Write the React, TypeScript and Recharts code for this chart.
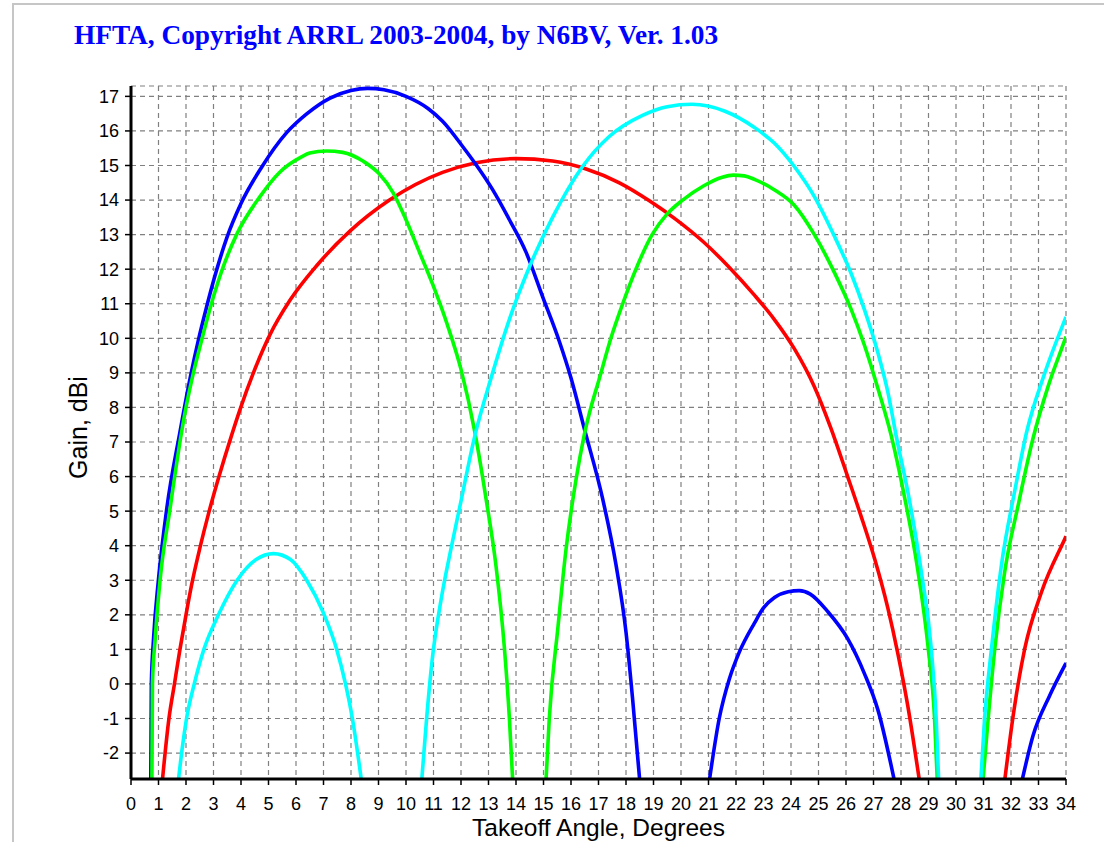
import React from 'react';
import { LineChart, Line, XAxis, YAxis, CartesianGrid } from 'recharts';

const TITLE = 'HFTA, Copyright ARRL 2003-2004, by N6BV, Ver. 1.03';
const X_LABEL = 'Takeoff Angle, Degrees';
const Y_LABEL = 'Gain, dBi';

const xTicks = [0, 1, 2, 3, 4, 5, 6, 7, 8, 9, 10, 11, 12, 13, 14, 15, 16, 17, 18, 19, 20, 21, 22, 23, 24, 25, 26, 27, 28, 29, 30, 31, 32, 33, 34];
const yTicks = [-2, -1, 0, 1, 2, 3, 4, 5, 6, 7, 8, 9, 10, 11, 12, 13, 14, 15, 16, 17];
const xDomain = [0, 34];
const yDomain = [-2.75, 17.3];

// minor tick subdivisions (fifths of a unit)
const minorSteps = [0.2, 0.4, 0.6, 0.8];
const xMinorTicks = xTicks.slice(0, -1).flatMap((t) => minorSteps.map((s) => +(t + s).toFixed(2)));
const yMinorTicks = [-2.6, -2.4, -2.2, ...yTicks.slice(0, -1).flatMap((t) => minorSteps.map((s) => +(t + s).toFixed(2))), 17.2];

// Blue series (null = gap below the plot floor)
const blueAngles = [0.72, 0.74, 0.82, 0.99, 1.3, 1.78, 2.15, 2.45, 2.73, 3.05, 3.48, 4.0, 4.75, 5.66, 6.4, 7.24, 8.0, 8.6, 9.2, 10.0, 10.8, 11.33, 12.06, 12.55, 13.15, 13.76, 14.36, 14.97, 15.58, 16.0, 16.48, 17.15, 17.64, 18.0, 18.24, 18.5,
  19.7,
  21.03, 21.39, 21.76, 22.12, 22.67, 23.0, 23.4, 23.9, 24.3, 24.7, 25.33, 26.06, 26.67, 27.16, 27.76,
  30.0,
  32.4, 32.8, 33.4, 34.0];
const blueGains = [-2.8, 0, 1.31, 2.95, 5.07, 7.29, 8.85, 9.95, 10.85, 11.8, 12.9, 13.9, 14.95, 15.95, 16.5, 16.95, 17.17, 17.23, 17.19, 17.0, 16.65, 16.28, 15.55, 15.02, 14.3, 13.43, 12.5, 11.2, 9.9, 8.85, 7.4, 5.36, 3.43, 1.5, -0.43, -2.8,
  null,
  -2.8, -1.0, 0.15, 0.92, 1.76, 2.2, 2.5, 2.67, 2.7, 2.6, 2.1, 1.31, 0.3, -0.75, -2.8,
  null,
  -2.8, -1.5, -0.35, 0.6];

// Green series
const greenAngles = [0.76, 0.78, 0.88, 1.05, 1.42, 1.84, 2.0, 2.27, 2.57, 2.87, 3.3, 3.84, 4.69, 5.4, 6.2, 6.5, 7.1, 7.7, 8.45, 9.0, 9.54, 10.0, 10.5, 11.0, 11.5, 12.0, 12.5, 12.91, 13.27, 13.58, 13.76, 13.88,
  14.5,
  15.09, 15.21, 15.52, 15.82, 16.18, 16.48, 17.09, 17.45, 17.88, 18.36, 18.95, 19.5, 20.06, 20.8, 21.5, 21.9, 22.3, 22.67, 23.39, 24.12, 24.85, 25.58, 26.18, 26.67, 27.16, 27.64, 28.13, 28.61, 28.98, 29.22, 29.32,
  30.2,
  30.98, 31.17, 31.41, 31.77, 32.26, 32.8, 33.35, 33.96, 34.0];
const greenGains = [-2.8, 0, 1.31, 2.95, 5.07, 7.29, 8.0, 9.0, 9.95, 10.85, 11.95, 13.0, 14.1, 14.8, 15.25, 15.36, 15.42, 15.38, 15.12, 14.78, 14.2, 13.43, 12.47, 11.5, 10.4, 9.1, 7.3, 5.36, 3.43, 1.02, -1.0, -2.8,
  null,
  -2.8, -1.0, 1.6, 3.9, 5.9, 7.2, 9.0, 10.0, 11.0, 12.0, 13.0, 13.6, 14.0, 14.4, 14.66, 14.72, 14.7, 14.6, 14.3, 13.85, 13.0, 11.9, 10.85, 9.8, 8.55, 7.2, 5.4, 3.3, 1.1, -1.0, -2.8,
  null,
  -2.8, -1.0, 1.02, 3.24, 5.17, 7.1, 8.61, 9.96, 10.05];

// Red series
const redAngles = [1.14, 1.38, 1.58, 1.78, 2.0, 2.2, 2.51, 2.81, 3.18, 3.66, 3.96, 4.45, 5.05, 5.78, 6.75, 7.96, 9.4, 11.33, 12.55, 14.0, 15.33, 16.55, 17.76, 18.85, 19.8, 20.8, 21.76, 22.67, 23.39, 24.12, 24.85, 25.45, 26.06, 26.55, 27.03, 27.52, 27.88, 28.25, 28.67,
  30.0,
  31.77, 32.08, 32.5, 33.11, 33.96, 34.0];
const redGains = [-2.8, -1.0, 0, 1.0, 2.0, 2.85, 3.95, 4.9, 5.95, 7.2, 7.93, 9.0, 10.1, 11.1, 12.1, 13.1, 14.0, 14.8, 15.08, 15.2, 15.13, 14.9, 14.5, 13.98, 13.45, 12.8, 12.05, 11.25, 10.55, 9.7, 8.6, 7.4, 6.0, 4.85, 3.65, 2.2, 0.9, -0.65, -2.8,
  null,
  -2.8, -0.91, 1.02, 2.66, 4.2, 4.27];

// Cyan series
const cyanAngles = [1.72, 1.84, 2.02, 2.3, 2.65, 3.18, 3.86, 4.55, 5.18, 5.8, 6.39, 7.0, 7.48, 7.8, 8.05, 8.38,
  9.5,
  10.57, 10.75, 10.93, 11.3, 11.62, 11.95, 12.48, 13.15, 13.76, 14.48, 15.33, 16.42, 17.39, 18.6, 19.5, 20.4, 21.6, 22.67, 23.39, 24.12, 24.85, 25.58, 26.18, 26.67, 27.16, 27.52, 27.82, 28.31, 28.74, 29.1, 29.28, 29.37,
  30.1,
  30.9, 31.04, 31.29, 31.65, 32.14, 32.56, 33.23, 33.96, 34.0];
const cyanGains = [-2.8, -2.0, -1.0, 0, 1.0, 2.0, 3.0, 3.6, 3.77, 3.6, 3.0, 2.05, 1.0, 0, -1.0, -2.8,
  null,
  -2.8, -1.0, 0.54, 2.55, 3.85, 5.1, 7.1, 9.0, 10.55, 12.05, 13.5, 14.97, 15.84, 16.45, 16.7, 16.77, 16.57, 16.1, 15.65, 14.97, 14.1, 12.95, 11.89, 10.83, 9.58, 8.45, 7.2, 5.3, 3.24, 1.02, -1.0, -2.8,
  null,
  -2.8, -1.0, 1.02, 3.43, 5.6, 7.26, 9.0, 10.54, 10.62];

const toRows = (angles: number[], gains: (number | null)[]) =>
  angles.map((a, i) => ({ angle: a, gain: gains[i] }));

const series = [
  { name: 'red', color: '#FF0000', data: toRows(redAngles, redGains) },
  { name: 'blue', color: '#0000FF', data: toRows(blueAngles, blueGains) },
  { name: 'green', color: '#00FF00', data: toRows(greenAngles, greenGains) },
  { name: 'cyan', color: '#00FFFF', data: toRows(cyanAngles, cyanGains) },
];

const FONT = '"Liberation Sans", Arial, sans-serif';
const tickStyle = { fontFamily: FONT, fontSize: 18, fill: '#000' };

const YLabel = (props: any) => {
  const vb = props.viewBox || {};
  const cx = (vb.x ?? 0) + 87;
  const cy = (vb.y ?? 0) + (vb.height ?? 0) / 2 - 5;
  return (
    <text x={cx} y={cy} transform={`rotate(-90 ${cx} ${cy})`} textAnchor="middle" fontFamily={FONT} fontSize={25} fill="#000">
      {Y_LABEL}
    </text>
  );
};

const XLabel = (props: any) => {
  const vb = props.viewBox || {};
  const cx = (vb.x ?? 0) + (vb.width ?? 0) / 2;
  const cy = (vb.y ?? 0) + 57;
  return (
    <text x={cx} y={cy} textAnchor="middle" fontFamily={FONT} fontSize={24.5} fill="#000">
      {X_LABEL}
    </text>
  );
};

export default function App() {
  return (
    <div style={{ position: 'absolute', left: 0, top: 0, width: 1104, height: 842, overflow: 'hidden', background: '#fff' }}>
      <div style={{ position: 'absolute', left: 12, top: 3, width: 1300, height: 1000, border: '2px solid #c6c6c6', boxSizing: 'border-box' }} />
      <div style={{ position: 'absolute', left: 0, top: 0 }}>
        <LineChart width={1104} height={842} margin={{ top: 86, right: 38, bottom: 0, left: 0 }}>
          <CartesianGrid stroke="#808080" strokeDasharray="5 4" strokeWidth={1.2} />
          <XAxis xAxisId="minor" type="number" dataKey="angle" domain={xDomain} allowDataOverflow ticks={xMinorTicks} interval={0} height={0} tick={false} axisLine={false} tickLine={{ stroke: '#000', strokeWidth: 1 }} tickSize={4} />
          <YAxis yAxisId="minor" type="number" domain={yDomain} allowDataOverflow ticks={yMinorTicks} interval={0} width={0} tick={false} axisLine={false} tickLine={{ stroke: '#000', strokeWidth: 1 }} tickSize={4} />
          <XAxis type="number" dataKey="angle" domain={xDomain} allowDataOverflow ticks={xTicks} interval={0} height={63}
            tick={tickStyle} tickSize={6} tickMargin={12} axisLine={{ stroke: '#000', strokeWidth: 3 }} tickLine={{ stroke: '#000', strokeWidth: 1.5 }}
            label={<XLabel />} />
          <YAxis type="number" domain={yDomain} allowDataOverflow ticks={yTicks} interval={0} width={131}
            tick={tickStyle} tickSize={6} tickMargin={6} axisLine={{ stroke: '#000', strokeWidth: 3 }} tickLine={{ stroke: '#000', strokeWidth: 1.5 }}
            label={<YLabel />} />
          <XAxis xAxisId="top" orientation="top" type="number" domain={xDomain} allowDataOverflow height={0} tick={false} tickLine={false} axisLine={{ stroke: '#000', strokeWidth: 1.5 }} />
          <YAxis yAxisId="right" orientation="right" type="number" domain={yDomain} allowDataOverflow width={0} tick={false} tickLine={false} axisLine={{ stroke: '#000', strokeWidth: 1.5 }} />
          {series.map((s) => (
            <Line key={s.name} data={s.data} dataKey="gain" type="monotone" stroke={s.color} strokeWidth={3.6}
              dot={false} activeDot={false} isAnimationActive={false} connectNulls={false} />
          ))}
        </LineChart>
      </div>
      <svg width={1104} height={80} style={{ position: 'absolute', left: 0, top: 0 }}>
        <text x={74} y={44} fontFamily='"Liberation Serif", "Times New Roman", serif' fontWeight="bold" fontSize={27.3} fill="#0000FF">
          {TITLE}
        </text>
      </svg>
    </div>
  );
}
